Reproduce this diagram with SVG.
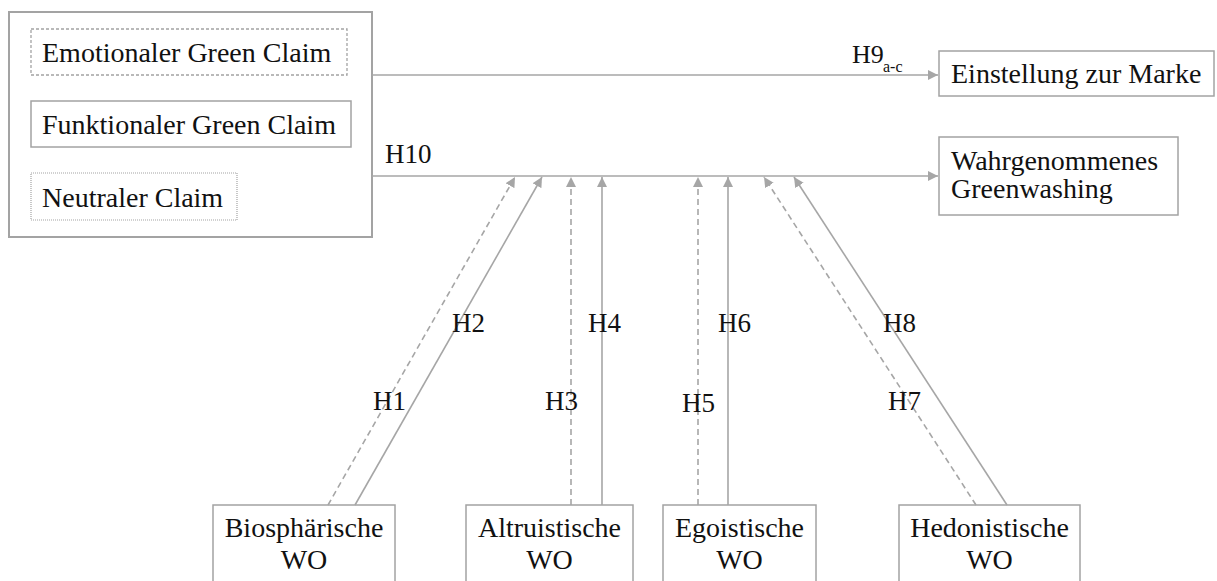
<svg xmlns="http://www.w3.org/2000/svg" width="1217" height="581" viewBox="0 0 1217 581">
<style>
.t{font-family:"Liberation Serif","Times New Roman",serif;font-size:28px;fill:#111}
.h{font-family:"Liberation Serif","Times New Roman",serif;font-size:27px;fill:#111}
.box{fill:#fff;stroke:#a3a3a3;stroke-width:1.5}
.ln{stroke:#a6a6a6;stroke-width:1.6;fill:none}
.dash{stroke-dasharray:6,4}
</style>
<defs>
<marker id="ah" viewBox="0 0 10 10" refX="10" refY="5" markerWidth="10" markerHeight="10" markerUnits="userSpaceOnUse" orient="auto">
<path d="M0,0 L10,5 L0,10 z" fill="#a6a6a6"/>
</marker>
</defs>
<g id="claims">
<rect x="9" y="12" width="363" height="225" fill="#fff" stroke="#a3a3a3" stroke-width="2"/>
<g id="emotional"><rect x="31" y="29" width="316" height="46" fill="#fff" stroke="#a3a3a3" stroke-width="1.3" stroke-dasharray="3,2"/><text class="t" x="42" y="62">Emotionaler Green Claim</text></g>
<g id="funktional"><rect class="box" x="31" y="101" width="320" height="46"/><text class="t" x="42" y="134">Funktionaler Green Claim</text></g>
<g id="neutral"><rect x="31" y="173" width="206" height="47" fill="#fff" stroke="#a3a3a3" stroke-width="1.2" stroke-dasharray="1,1"/><text class="t" x="42" y="207">Neutraler Claim</text></g>
</g>
<g id="einstellung"><rect class="box" x="939" y="51" width="275" height="45"/><text class="t" x="951" y="83">Einstellung zur Marke</text></g>
<g id="greenwashing"><rect class="box" x="939" y="137" width="239" height="78"/><text class="t" x="951" y="170">Wahrgenommenes</text><text class="t" x="951" y="198">Greenwashing</text></g>
<g id="bio"><rect class="box" x="213" y="505" width="182" height="90"/><text class="t" x="304" y="537" text-anchor="middle">Biosphärische</text><text class="t" x="304" y="569" text-anchor="middle">WO</text></g>
<g id="alt"><rect class="box" x="466" y="505" width="167" height="90"/><text class="t" x="549.5" y="537" text-anchor="middle">Altruistische</text><text class="t" x="549.5" y="569" text-anchor="middle">WO</text></g>
<g id="ego"><rect class="box" x="663" y="505" width="153" height="90"/><text class="t" x="739.5" y="537" text-anchor="middle">Egoistische</text><text class="t" x="739.5" y="569" text-anchor="middle">WO</text></g>
<g id="hed"><rect class="box" x="899" y="505" width="181" height="90"/><text class="t" x="989.5" y="537" text-anchor="middle">Hedonistische</text><text class="t" x="989.5" y="569" text-anchor="middle">WO</text></g>
<g id="connectors">
<line class="ln" x1="372" y1="75" x2="938" y2="75" marker-end="url(#ah)"/>
<line class="ln" x1="372" y1="176" x2="938" y2="176" marker-end="url(#ah)"/>
<line class="ln dash" x1="328" y1="505" x2="515" y2="177" marker-end="url(#ah)"/>
<line class="ln" x1="355" y1="505" x2="542" y2="177" marker-end="url(#ah)"/>
<line class="ln dash" x1="571" y1="505" x2="571" y2="177" marker-end="url(#ah)"/>
<line class="ln" x1="602" y1="505" x2="602" y2="177" marker-end="url(#ah)"/>
<line class="ln dash" x1="698" y1="505" x2="698" y2="177" marker-end="url(#ah)"/>
<line class="ln" x1="728" y1="505" x2="728" y2="177" marker-end="url(#ah)"/>
<line class="ln dash" x1="976" y1="505" x2="764" y2="177" marker-end="url(#ah)"/>
<line class="ln" x1="1007" y1="505" x2="794" y2="177" marker-end="url(#ah)"/>
</g>
<g id="labels">
<text class="h" x="852" y="63" style="font-size:26px">H9</text><text class="h" x="883" y="72" style="font-size:16px">a-c</text>
<text class="h" x="385" y="163">H10</text>
<text class="h" x="452" y="332">H2</text>
<text class="h" x="588" y="332">H4</text>
<text class="h" x="718" y="332">H6</text>
<text class="h" x="883" y="332">H8</text>
<text class="h" x="373" y="410">H1</text>
<text class="h" x="545" y="410">H3</text>
<text class="h" x="682" y="412">H5</text>
<text class="h" x="888" y="410">H7</text>
</g>
</svg>
